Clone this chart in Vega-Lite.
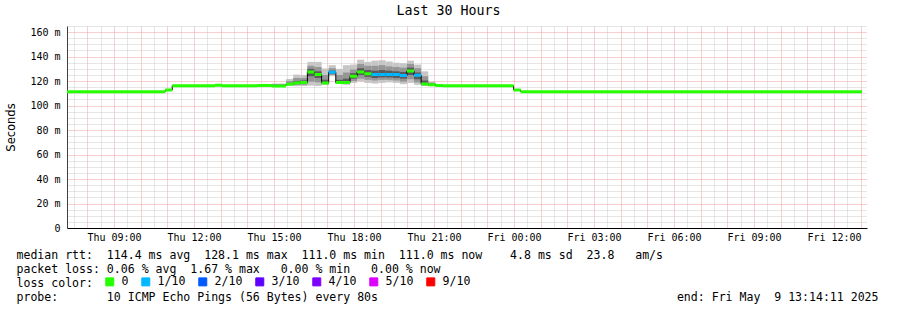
{
  "$schema": "https://vega.github.io/schema/vega-lite/v6.json",
  "width": 800,
  "height": 202,
  "autosize": {"type": "none"},
  "padding": {"left": 67, "top": 26, "right": 30, "bottom": 82},
  "background": "white",
  "config": {"view": {"stroke": null}},
  "title": {"text": "Last 30 Hours", "font": "DejaVu Sans Mono", "fontSize": 13.3, "fontWeight": "normal", "color": "black", "anchor": "middle", "dx": -18.5, "offset": 4},
  "data": {"values": [
    {"t": "2025-05-08T07:14:11Z", "t2": "2025-05-08T10:55:00Z", "med": 111.2, "loss": "0"},
    {"t": "2025-05-08T10:55:00Z", "t2": "2025-05-08T11:11:00Z", "med": 112.7, "loss": "0"},
    {"t": "2025-05-08T11:11:00Z", "t2": "2025-05-08T12:47:00Z", "med": 116.2, "loss": "0"},
    {"t": "2025-05-08T12:47:00Z", "t2": "2025-05-08T13:03:00Z", "med": 116.6, "loss": "0"},
    {"t": "2025-05-08T13:03:00Z", "t2": "2025-05-08T14:23:00Z", "med": 116.2, "loss": "0"},
    {"t": "2025-05-08T14:23:00Z", "t2": "2025-05-08T14:55:00Z", "med": 116.3, "loss": "0", "lo": 116.1, "lo2": 116.2, "lo3": 116.3, "hi3": 116.6, "hi2": 116.9, "hi": 117.3},
    {"t": "2025-05-08T14:55:00Z", "t2": "2025-05-08T15:27:00Z", "med": 116.0, "loss": "0", "lo": 115.9, "lo2": 116.0, "lo3": 116.2, "hi3": 116.9, "hi2": 117.4, "hi": 118.0},
    {"t": "2025-05-08T15:27:00Z", "t2": "2025-05-08T15:43:00Z", "med": 117.5, "loss": "0", "lo": 116.5, "lo2": 117.0, "lo3": 117.2, "hi3": 118.5, "hi2": 120.0, "hi": 121.8},
    {"t": "2025-05-08T15:43:00Z", "t2": "2025-05-08T15:59:00Z", "med": 118.5, "loss": "0", "lo": 115.8, "lo2": 116.8, "lo3": 117.5, "hi3": 120.0, "hi2": 122.5, "hi": 125.3},
    {"t": "2025-05-08T15:59:00Z", "t2": "2025-05-08T16:15:00Z", "med": 118.8, "loss": "0", "lo": 116.0, "lo2": 117.0, "lo3": 117.8, "hi3": 120.5, "hi2": 122.5, "hi": 125.0},
    {"t": "2025-05-08T16:15:00Z", "t2": "2025-05-08T16:31:00Z", "med": 127.5, "loss": "0", "lo": 116.3, "lo2": 119.5, "lo3": 124.0, "hi3": 130.0, "hi2": 132.5, "hi": 135.7},
    {"t": "2025-05-08T16:31:00Z", "t2": "2025-05-08T16:47:00Z", "med": 125.3, "loss": "0", "lo": 116.0, "lo2": 119.0, "lo3": 122.5, "hi3": 128.0, "hi2": 131.5, "hi": 135.7},
    {"t": "2025-05-08T16:47:00Z", "t2": "2025-05-08T17:03:00Z", "med": 118.5, "loss": "0", "lo": 117.0, "lo2": 117.5, "lo3": 117.8, "hi3": 121.0, "hi2": 125.0, "hi": 130.2},
    {"t": "2025-05-08T17:03:00Z", "t2": "2025-05-08T17:19:00Z", "med": 127.2, "loss": "1/10", "lo": 124.0, "lo2": 125.0, "lo3": 126.0, "hi3": 128.5, "hi2": 130.5, "hi": 133.0},
    {"t": "2025-05-08T17:19:00Z", "t2": "2025-05-08T17:35:00Z", "med": 118.8, "loss": "0", "lo": 117.7, "lo2": 118.0, "lo3": 118.3, "hi3": 121.0, "hi2": 125.0, "hi": 130.0},
    {"t": "2025-05-08T17:35:00Z", "t2": "2025-05-08T17:51:00Z", "med": 118.8, "loss": "0", "lo": 117.0, "lo2": 117.6, "lo3": 118.0, "hi3": 122.0, "hi2": 127.0, "hi": 133.0},
    {"t": "2025-05-08T17:51:00Z", "t2": "2025-05-08T18:07:00Z", "med": 124.0, "loss": "0", "lo": 118.5, "lo2": 120.0, "lo3": 122.0, "hi3": 126.5, "hi2": 129.5, "hi": 133.5},
    {"t": "2025-05-08T18:07:00Z", "t2": "2025-05-08T18:23:00Z", "med": 127.5, "loss": "0", "lo": 119.8, "lo2": 122.0, "lo3": 125.0, "hi3": 130.5, "hi2": 134.0, "hi": 137.5},
    {"t": "2025-05-08T18:23:00Z", "t2": "2025-05-08T18:39:00Z", "med": 126.0, "loss": "0", "lo": 118.5, "lo2": 121.0, "lo3": 123.5, "hi3": 129.0, "hi2": 132.5, "hi": 135.7},
    {"t": "2025-05-08T18:39:00Z", "t2": "2025-05-08T18:55:00Z", "med": 125.3, "loss": "1/10", "lo": 118.0, "lo2": 120.5, "lo3": 122.5, "hi3": 128.5, "hi2": 132.5, "hi": 136.7},
    {"t": "2025-05-08T18:55:00Z", "t2": "2025-05-08T19:11:00Z", "med": 125.3, "loss": "1/10", "lo": 118.5, "lo2": 121.0, "lo3": 123.0, "hi3": 129.0, "hi2": 133.0, "hi": 137.0},
    {"t": "2025-05-08T19:11:00Z", "t2": "2025-05-08T19:27:00Z", "med": 125.3, "loss": "1/10", "lo": 119.0, "lo2": 121.0, "lo3": 123.0, "hi3": 128.5, "hi2": 132.0, "hi": 136.0},
    {"t": "2025-05-08T19:27:00Z", "t2": "2025-05-08T19:43:00Z", "med": 125.3, "loss": "1/10", "lo": 118.5, "lo2": 120.5, "lo3": 122.5, "hi3": 128.0, "hi2": 131.5, "hi": 135.0},
    {"t": "2025-05-08T19:43:00Z", "t2": "2025-05-08T19:59:00Z", "med": 124.5, "loss": "1/10", "lo": 117.5, "lo2": 119.5, "lo3": 122.0, "hi3": 127.5, "hi2": 131.0, "hi": 134.6},
    {"t": "2025-05-08T19:59:00Z", "t2": "2025-05-08T20:15:00Z", "med": 128.3, "loss": "0", "lo": 118.5, "lo2": 121.5, "lo3": 125.0, "hi3": 131.0, "hi2": 134.0, "hi": 136.7},
    {"t": "2025-05-08T20:15:00Z", "t2": "2025-05-08T20:31:00Z", "med": 124.7, "loss": "1/10", "lo": 117.0, "lo2": 119.0, "lo3": 121.5, "hi3": 127.0, "hi2": 130.5, "hi": 133.5},
    {"t": "2025-05-08T20:31:00Z", "t2": "2025-05-08T20:47:00Z", "med": 117.7, "loss": "0", "lo": 116.0, "lo2": 116.5, "lo3": 117.0, "hi3": 120.5, "hi2": 124.0, "hi": 128.0},
    {"t": "2025-05-08T20:47:00Z", "t2": "2025-05-08T21:03:00Z", "med": 117.0, "loss": "0", "lo": 116.0, "lo2": 116.3, "lo3": 116.6, "hi3": 117.8, "hi2": 118.7, "hi": 119.5},
    {"t": "2025-05-08T21:03:00Z", "t2": "2025-05-08T21:19:00Z", "med": 116.5, "loss": "0", "lo": 116.2, "lo2": 116.3, "lo3": 116.4, "hi3": 116.7, "hi2": 116.9, "hi": 117.2},
    {"t": "2025-05-08T21:19:00Z", "t2": "2025-05-08T23:59:00Z", "med": 116.2, "loss": "0"},
    {"t": "2025-05-08T23:59:00Z", "t2": "2025-05-09T00:15:00Z", "med": 112.7, "loss": "0"},
    {"t": "2025-05-09T00:15:00Z", "t2": "2025-05-09T13:03:00Z", "med": 111.2, "loss": "0"}
  ]},
  "encoding": {
    "x": {"field": "t", "type": "temporal",
          "scale": {"type": "utc", "domain": [1746688451000, 1746796451000]},
          "axis": {"tickCount": 60,
                   "labelExpr": "utcminutes(datum.value) == 0 && utchours(datum.value) % 3 == 0 ? utcFormat(datum.value, '%a %H:%M') : ''",
                   "grid": true, "gridDash": [1, 1], "gridWidth": 1,
                   "gridColor": {"condition": {"test": "utcminutes(datum.value) == 0", "value": "#f0a0a0"}, "value": "#cccccc"},
                   "domain": true, "domainColor": "black", "domainWidth": 1, "ticks": false,
                   "labelFont": "DejaVu Sans Mono", "labelFontSize": 10, "labelColor": "black", "labelPadding": 4, "labelFlush": false, "labelOverlap": false,
                   "title": ["median rtt:\u00a0\u00a0114.4 ms avg\u00a0\u00a0128.1 ms max\u00a0\u00a0111.0 ms min\u00a0\u00a0111.0 ms now\u00a0\u00a0\u00a0\u00a04.8 ms sd\u00a0\u00a023.8\u00a0\u00a0\u00a0am/s",
                             "packet loss: 0.06 % avg\u00a0\u00a01.67 % max\u00a0\u00a0\u00a00.00 % min\u00a0\u00a0\u00a00.00 % now",
                             "loss color:",
                             "probe:\u00a0\u00a0\u00a0\u00a0\u00a0\u00a0\u00a010 ICMP Echo Pings (56 Bytes) every 80s\u00a0\u00a0\u00a0\u00a0\u00a0\u00a0\u00a0\u00a0\u00a0\u00a0\u00a0\u00a0\u00a0\u00a0\u00a0\u00a0\u00a0\u00a0\u00a0\u00a0\u00a0\u00a0\u00a0\u00a0\u00a0\u00a0\u00a0\u00a0\u00a0\u00a0\u00a0\u00a0\u00a0\u00a0\u00a0\u00a0\u00a0\u00a0\u00a0\u00a0\u00a0\u00a0\u00a0end: Fri May\u00a0\u00a09 13:14:11 2025"],
                   "titleFont": "DejaVu Sans Mono", "titleFontSize": 11.55, "titleFontWeight": "normal", "titleColor": "black", "titleAlign": "left", "titleAnchor": "start", "titleX": -51, "titleY": 30.5, "titleBaseline": "alphabetic", "titleLineHeight": 14.1, "titleAngle": 0, "titleLimit": 2000}},
    "y": {"type": "quantitative", "scale": {"domain": [0, 165], "nice": false, "zero": true},
          "axis": {"values": [0, 5, 10, 15, 20, 25, 30, 35, 40, 45, 50, 55, 60, 65, 70, 75, 80, 85, 90, 95, 100, 105, 110, 115, 120, 125, 130, 135, 140, 145, 150, 155, 160, 165],
                   "labelExpr": "datum.value % 20 == 0 ? (datum.value == 0 ? '0' : datum.value + ' m') : ''",
                   "grid": true, "gridDash": [1, 1], "gridWidth": 1,
                   "gridColor": {"condition": {"test": "datum.value % 20 == 0", "value": "#f0a0a0"}, "value": "#cccccc"},
                   "domain": true, "domainColor": "#404040", "ticks": false,
                   "labelFont": "DejaVu Sans Mono", "labelFontSize": 10, "labelColor": "black", "labelPadding": 7, "labelFlush": false, "labelOverlap": false,
                   "title": "Seconds", "titleFont": "DejaVu Sans", "titleFontSize": 11.5, "titleFontWeight": "normal", "titleColor": "black", "titleX": -56, "titleY": 101, "titleAngle": 270, "titleAlign": "center", "titleBaseline": "middle"}}
  },
  "layer": [
    {
      "transform": [{"filter": "isValid(datum.lo)"}],
      "mark": {"type": "rect", "color": "#c6c6c6"},
      "encoding": {"x2": {"field": "t2"}, "y": {"field": "lo", "type": "quantitative"}, "y2": {"field": "hi"}}
    },
    {
      "transform": [{"filter": "isValid(datum.lo2)"}],
      "mark": {"type": "rect", "color": "#969696"},
      "encoding": {"x2": {"field": "t2"}, "y": {"field": "lo2", "type": "quantitative"}, "y2": {"field": "hi2"}}
    },
    {
      "transform": [{"filter": "isValid(datum.lo3)"}],
      "mark": {"type": "rect", "color": "#5a5a5a"},
      "encoding": {"x2": {"field": "t2"}, "y": {"field": "lo3", "type": "quantitative"}, "y2": {"field": "hi3"}}
    },
    {
      "mark": {"type": "line", "interpolate": "step-after", "color": "black", "strokeWidth": 1},
      "encoding": {"y": {"field": "med", "type": "quantitative"}}
    },
    {
      "mark": {"type": "rect", "strokeWidth": 3},
      "encoding": {
        "x2": {"field": "t2"},
        "y": {"field": "med", "type": "quantitative"},
        "y2": {"field": "med"},
        "color": {"field": "loss", "type": "nominal",
                  "scale": {"domain": ["0", "1/10", "2/10", "3/10", "4/10", "5/10", "9/10"], "range": ["#26ff00", "#00b8ff", "#0059ff", "#5e00ff", "#7e00ff", "#dd00ff", "#ff0000"]},
                  "legend": {"title": null, "orient": "none", "legendX": 37, "legendY": 250, "direction": "horizontal", "symbolType": "square", "symbolSize": 64, "symbolStrokeColor": "black", "symbolStrokeWidth": 1, "labelFont": "DejaVu Sans Mono", "labelFontSize": 11.55, "labelColor": "black", "labelOffset": 6, "columnPadding": 10, "padding": 0}},
        "stroke": {"field": "loss", "type": "nominal",
                   "scale": {"domain": ["0", "1/10", "2/10", "3/10", "4/10", "5/10", "9/10"], "range": ["#26ff00", "#00b8ff", "#0059ff", "#5e00ff", "#7e00ff", "#dd00ff", "#ff0000"]},
                   "legend": null}
      }
    }
  ]
}
